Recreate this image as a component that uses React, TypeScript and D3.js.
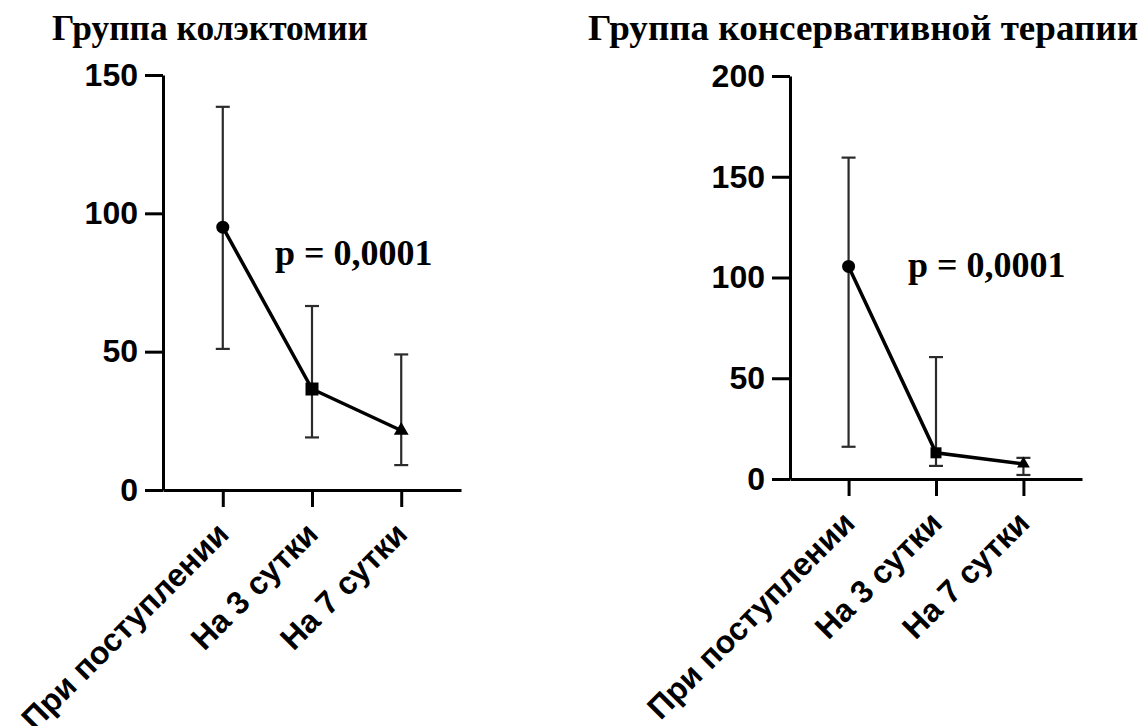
import React, { useEffect, useRef } from 'react';
import * as d3 from 'd3';

const width = 1148,
      height = 726;

const categories = ['При поступлении', 'На 3 сутки', 'На 7 сутки'];

const colectomyMean = [95, 36.5, 21.5];
const colectomyUpper = [138.5, 66.5, 49];
const colectomyLower = [51, 19, 9];
const colectomyTicks = [0, 50, 100, 150];

const conservativeMean = [105.5, 13, 7.5];
const conservativeUpper = [159.5, 60.5, 10.5];
const conservativeLower = [16, 6.5, 2];
const conservativeTicks = [0, 50, 100, 150, 200];

const pLabel = 'p = 0,0001';

const panels = [
    {
        title: 'Группа колэктомии', titleX: 52, titleW: 316,
        mean: colectomyMean, upper: colectomyUpper, lower: colectomyLower, ticks: colectomyTicks,
        x0: 163, x1: 461, yTop: 75, yBottom: 490, pX: 275, pY: 265,
        sizes: [133, 169, 95],
    },
    {
        title: 'Группа консервативной терапии', titleX: 588, titleW: 550,
        mean: conservativeMean, upper: conservativeUpper, lower: conservativeLower, ticks: conservativeTicks,
        x0: 790, x1: 1082, yTop: 76, yBottom: 479, pX: 908, pY: 277,
        sizes: [133, 121, 70],
    },
];

const sans = '"Liberation Sans", Arial, sans-serif';
const serif = '"Liberation Serif", "Times New Roman", serif';

const App = () => {
    const ref = useRef<SVGSVGElement>(null);

    useEffect(() => {
        const svg = d3.select(ref.current);
        svg.html('');
        svg.append('rect').attr('width', width).attr('height', height).attr('fill', '#fff');

        panels.forEach((p) => {
            const x = d3.scalePoint<string>().domain(categories).range([p.x0, p.x1]).padding(0.67);
            const y = d3.scaleLinear().domain([0, p.ticks[p.ticks.length - 1]]).range([p.yBottom, p.yTop]);
            const g = svg.append('g');

            // title
            g.append('text')
                .attr('x', p.titleX).attr('y', 40)
                .attr('textLength', p.titleW).attr('lengthAdjust', 'spacingAndGlyphs')
                .style('font-family', serif).style('font-weight', 'bold').style('font-size', '36px')
                .text(p.title);

            // y axis
            const yAxis = g.append('g')
                .attr('transform', `translate(${p.x0},0)`)
                .call(d3.axisLeft(y).tickValues(p.ticks).tickSize(18).tickSizeOuter(0).tickPadding(7));
            yAxis.selectAll('path, line').attr('stroke', '#000').attr('stroke-width', 3);
            yAxis.selectAll('text')
                .attr('fill', '#000')
                .style('font-family', sans).style('font-weight', 'bold').style('font-size', '32px');

            // x axis
            const xAxis = g.append('g')
                .attr('transform', `translate(0,${p.yBottom})`)
                .call(d3.axisBottom(x).tickSize(17).tickSizeOuter(0));
            xAxis.selectAll('path, line').attr('stroke', '#000').attr('stroke-width', 3);
            xAxis.selectAll('text').remove();

            g.selectAll('.xlabel')
                .data(categories).enter().append('text')
                .attr('transform', d => `translate(${(x(d) as number) + 8},${p.yBottom + 46}) rotate(-45)`)
                .attr('text-anchor', 'end')
                .style('font-family', sans).style('font-weight', 'bold').style('font-size', '32px')
                .text(d => d);

            // error bars
            const bars = g.selectAll('.err').data(categories).enter().append('g');
            bars.append('line')
                .attr('x1', d => x(d) as number).attr('x2', d => x(d) as number)
                .attr('y1', (d, i) => y(p.upper[i])).attr('y2', (d, i) => y(p.lower[i]));
            bars.append('line')
                .attr('x1', d => (x(d) as number) - 7).attr('x2', d => (x(d) as number) + 7)
                .attr('y1', (d, i) => y(p.upper[i])).attr('y2', (d, i) => y(p.upper[i]));
            bars.append('line')
                .attr('x1', d => (x(d) as number) - 7).attr('x2', d => (x(d) as number) + 7)
                .attr('y1', (d, i) => y(p.lower[i])).attr('y2', (d, i) => y(p.lower[i]));
            bars.selectAll('line').attr('stroke', '#2b2b2b').attr('stroke-width', 2.2);

            // mean line
            const line = d3.line<number>().x((d, i) => x(categories[i]) as number).y(d => y(d));
            g.append('path')
                .attr('d', line(p.mean))
                .attr('fill', 'none').attr('stroke', '#000').attr('stroke-width', 3.5);

            const shapes = [d3.symbolCircle, d3.symbolSquare, d3.symbolTriangle];
            g.selectAll('.mark')
                .data(p.mean).enter().append('path')
                .attr('transform', (d, i) => `translate(${x(categories[i])},${y(d)})`)
                .attr('d', (d, i) => d3.symbol().type(shapes[i]).size(p.sizes[i])())
                .attr('fill', '#000');

            // p value
            g.append('text')
                .attr('x', p.pX).attr('y', p.pY)
                .style('font-family', serif).style('font-weight', 'bold').style('font-size', '36px')
                .text(pLabel);
        });
    }, []);

    return (
        <svg
            ref={ref}
            width={width}
            height={height}
            style={{ position: 'absolute', left: 0, top: 0 }}>
        </svg>
    );
};

export default App;
